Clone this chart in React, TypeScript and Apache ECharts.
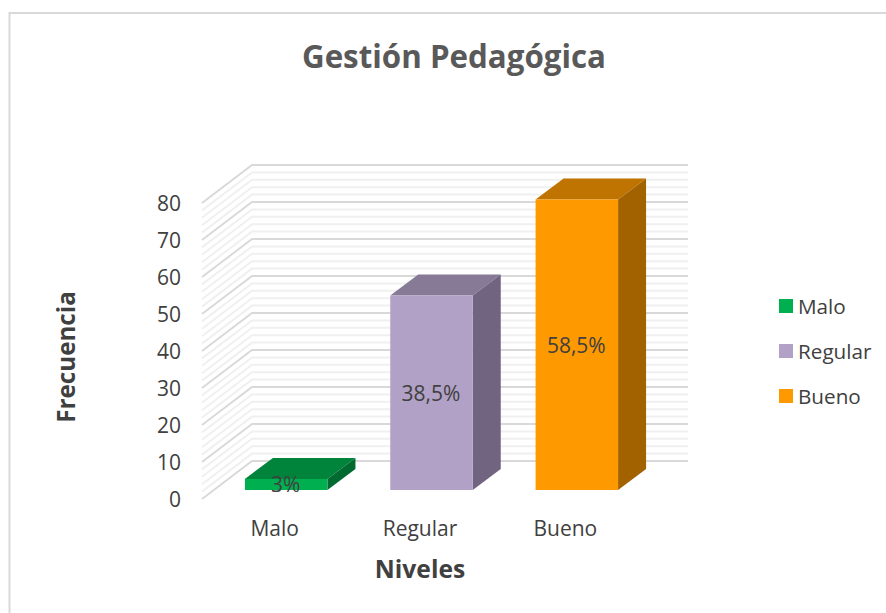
import React, { useEffect, useRef } from "react";
import * as echarts from "echarts";

const categories = ["Malo", "Regular", "Bueno"];
const values = [3, 52.6, 78.5];
const percentLabels = ["3%", "38,5%", "58,5%"];
const gridValues = [
  0, 2, 4, 6, 8, 10, 12, 14, 16, 18, 20, 22, 24, 26, 28, 30, 32, 34, 36, 38, 40,
  42, 44, 46, 48, 50, 52, 54, 56, 58, 60, 62, 64, 66, 68, 70, 72, 74, 76, 78, 80,
];
const faceColors = [
  { front: "#00B050", top: "#00843C", side: "#006A30" },
  { front: "#B2A1C7", top: "#867A96", side: "#706480" },
  { front: "#FF9900", top: "#BF7300", side: "#A36200" },
];

const FONT = "'Open Sans', sans-serif";
const TEXT = "#404040";
const DEPTH_X = 50;
const DEPTH_Y = 38;
const BAR_WIDTH = 82.5;
const BAR_DX = 11.5;
const BAR_DY = 9;
const BAR_DEPTH_X = 28;
const BAR_DEPTH_Y = 21;

function renderGrid(params: any, api: any) {
  const v = api.value(1);
  const [, y] = api.coord([0, v]);
  const cs = params.coordSys;
  const major = v % 10 === 0;
  return {
    type: "polyline",
    silent: true,
    shape: {
      points: [
        [cs.x, y],
        [cs.x + DEPTH_X, y - DEPTH_Y],
        [cs.x + cs.width + DEPTH_X, y - DEPTH_Y],
      ],
    },
    style: {
      fill: "none",
      stroke: major ? "#D9D9D9" : "#F0F0F0",
      lineWidth: 2,
    },
  };
}

function renderBar(params: any, api: any) {
  const i = params.seriesIndex - 1;
  const [cx, top0] = api.coord([api.value(0), api.value(1)]);
  const [, base0] = api.coord([api.value(0), 0]);
  const left = cx + BAR_DX - BAR_WIDTH / 2;
  const right = left + BAR_WIDTH;
  const top = top0 - BAR_DY;
  const base = base0 - BAR_DY;
  const c = faceColors[i];
  return {
    type: "group",
    silent: true,
    children: [
      {
        type: "polygon",
        shape: {
          points: [
            [left, top],
            [left + BAR_DEPTH_X, top - BAR_DEPTH_Y],
            [right + BAR_DEPTH_X, top - BAR_DEPTH_Y],
            [right, top],
          ],
        },
        style: { fill: c.top },
      },
      {
        type: "polygon",
        shape: {
          points: [
            [right, top],
            [right + BAR_DEPTH_X, top - BAR_DEPTH_Y],
            [right + BAR_DEPTH_X, base - BAR_DEPTH_Y],
            [right, base],
          ],
        },
        style: { fill: c.side },
      },
      {
        type: "rect",
        shape: { x: left, y: top, width: BAR_WIDTH, height: base - top },
        style: { fill: c.front },
      },
      {
        type: "text",
        style: {
          x: (left + right) / 2 - 0.5,
          y: (top + base) / 2,
          text: percentLabels[i],
          fill: TEXT,
          font: `21px ${FONT}`,
          align: "center",
          verticalAlign: "middle",
        },
      },
    ],
  };
}

export default function App() {
  const ref = useRef<HTMLDivElement>(null);
  useEffect(() => {
    document.body.style.margin = "0";
    const chart = echarts.init(ref.current!, undefined, { renderer: "svg" });
    chart.setOption({
      animation: false,
      backgroundColor: "#FFFFFF",
      textStyle: { fontFamily: FONT },
      title: {
        text: "Gestión Pedagógica",
        left: 454,
        top: 40,
        padding: 0,
        textAlign: "center",
        textStyle: { fontFamily: FONT, fontSize: 31.3, fontWeight: "bold", color: "#595959" },
      },
      legend: {
        orient: "vertical",
        left: 779,
        top: 292,
        padding: 0,
        data: categories,
        icon: "rect",
        itemWidth: 14,
        itemHeight: 14,
        itemGap: 17,
        selectedMode: false,
        textStyle: { fontFamily: FONT, fontSize: 20.7, color: TEXT, lineHeight: 28, padding: [0, 0, 0, 0] },
      },
      grid: { left: 202, top: 203, width: 436, height: 296 },
      xAxis: {
        type: "category",
        data: categories,
        axisLine: { show: false },
        axisTick: { show: false },
        axisLabel: { fontFamily: FONT, fontSize: 21, color: TEXT, margin: 18 },
        name: "Niveles",
        nameLocation: "middle",
        nameGap: 57,
        nameTextStyle: { fontFamily: FONT, fontSize: 24.6, fontWeight: "bold", color: TEXT },
      },
      yAxis: {
        type: "value",
        min: 0,
        max: 80,
        interval: 10,
        axisLine: { show: false },
        axisTick: { show: false },
        splitLine: { show: false },
        axisLabel: { fontFamily: FONT, fontSize: 21, color: TEXT, margin: 21 },
        name: "Frecuencia",
        nameLocation: "middle",
        nameGap: 125,
        nameTextStyle: { fontFamily: FONT, fontSize: 24.2, fontWeight: "bold", color: TEXT, padding: [0, 12, 0, 0] },
      },
      graphic: [
        {
          type: "polyline",
          silent: true,
          z: 100,
          shape: { points: [[9.5, 613], [9.5, 13], [886, 13]] },
          style: { fill: "none", stroke: "#D9D9D9", lineWidth: 2 },
        },
      ],
      series: [
        {
          type: "custom",
          name: "Rejilla",
          renderItem: renderGrid,
          data: gridValues.map((v) => [0, v]),
          encode: { x: 0, y: 1 },
          z: 1,
        },
        ...categories.map((name, i) => ({
          type: "custom",
          name,
          renderItem: renderBar,
          data: [[i, values[i]]],
          encode: { x: 0, y: 1 },
          itemStyle: { color: faceColors[i].front },
          z: 2,
        })),
      ],
    });
    return () => chart.dispose();
  }, []);
  return <div ref={ref} style={{ width: 886, height: 613 }} />;
}
